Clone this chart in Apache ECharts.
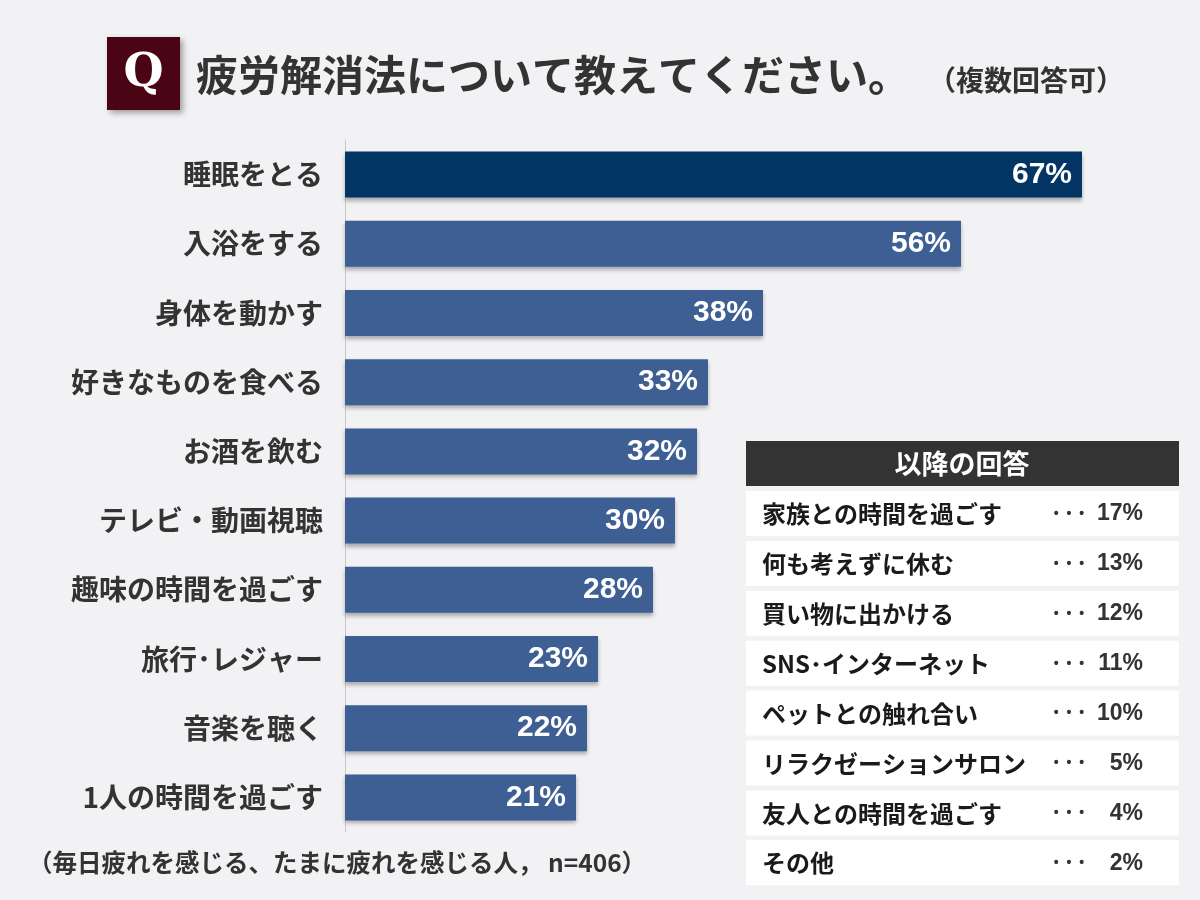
<!DOCTYPE html>
<html><head><meta charset="utf-8">
<script src="https://cdn.jsdelivr.net/npm/echarts@6/dist/echarts.min.js"></script>
<style>html,body{margin:0;padding:0;background:#f2f1f4;}#c{width:1200px;height:900px;}</style>
</head><body><div id="c"></div>
<script>
const categories = ['睡眠をとる','入浴をする','身体を動かす','好きなものを食べる','お酒を飲む','テレビ・動画視聴','趣味の時間を過ごす','旅行･レジャー','音楽を聴く','1人の時間を過ごす'];
const values = [67,56,38,33,32,30,28,23,22,21];
const otherLabels = ['家族との時間を過ごす','何も考えずに休む','買い物に出かける','SNS･インターネット','ペットとの触れ合い','リラクゼーションサロン','友人との時間を過ごす','その他'];
const otherValues = [17,13,12,11,10,5,4,2];
const titleText = '疲労解消法について教えてください。';
const subText = '（複数回答可）';
const noteText = '（毎日疲れを感じる、たまに疲れを感じる人， n=406）';
const tableHeader = '以降の回答';

const FONT = '"Noto Sans CJK JP", "Noto Sans", sans-serif';
const chart = echarts.init(document.getElementById('c'));

const graphics = [];
// Q box
graphics.push({type:'rect', shape:{x:107,y:37,width:73,height:73}, style:{fill:'#4a0414', shadowBlur:6, shadowOffsetX:3, shadowOffsetY:3, shadowColor:'rgba(0,0,0,0.35)'}});
graphics.push({type:'text', x:143.5, y:74, style:{text:'Q', fill:'#fff', font:'bold 46px "DejaVu Serif", "Liberation Serif", serif', align:'center', verticalAlign:'middle'}});
graphics.push({type:'text', x:196, y:75, style:{text:titleText, fill:'#333', font:'bold 42px '+FONT, align:'left', verticalAlign:'middle'}});
graphics.push({type:'text', x:928, y:80, style:{text:subText, fill:'#333', font:'bold 28px '+FONT, align:'left', verticalAlign:'middle'}});
graphics.push({type:'text', x:28, y:863, style:{text:noteText, fill:'#333', font:'bold 24.5px '+FONT, align:'left', verticalAlign:'middle'}});
// table
graphics.push({type:'rect', shape:{x:746,y:441,width:433,height:45}, style:{fill:'#333333'}});
graphics.push({type:'text', x:962, y:464, style:{text:tableHeader, fill:'#fff', font:'bold 27px '+FONT, align:'center', verticalAlign:'middle'}});
otherLabels.forEach((lab,i)=>{
  const top = 491 + i*49.9;
  graphics.push({type:'rect', shape:{x:746,y:top,width:433,height:45}, style:{fill:'#ffffff'}});
  const cy = top + 23;
  graphics.push({type:'text', x:762, y:cy, style:{text:lab, fill:'#1a1a1a', font:'bold 24px '+FONT, align:'left', verticalAlign:'middle'}});
  graphics.push({type:'text', x:1069, y:cy, style:{text:'•  •  •', fill:'#333', font:'bold 14px "Liberation Sans", Arial, sans-serif', align:'center', verticalAlign:'middle'}});
  graphics.push({type:'text', x:1143, y:cy, style:{text:otherValues[i]+'%', fill:'#333', font:'bold 23px "Liberation Sans", Arial, sans-serif', align:'right', verticalAlign:'middle'}});
});

chart.setOption({
  backgroundColor:'#f2f1f4',
  animation:false,
  grid:{left:345, top:140, width:770, height:692},
  xAxis:{type:'value', min:0, max:70, show:false},
  yAxis:{type:'category', inverse:true, data:categories,
    axisLine:{show:true, lineStyle:{color:'#c8c8cc', width:1}},
    axisTick:{show:false},
    axisLabel:{margin:22, color:'#333', fontSize:28, fontWeight:'bold', fontFamily:FONT}
  },
  series:[{
    type:'bar', barWidth:46,
    data: values.map((v,i)=>({value:v, itemStyle:{color: i===0 ? '#033564' : '#3d5f94'}})),
    itemStyle:{shadowBlur:4, shadowOffsetY:3, shadowColor:'rgba(0,0,0,0.3)'},
    label:{show:true, position:'insideRight', offset:[-5,0], formatter:'{c}%', color:'#fff', fontSize:30, fontWeight:'bold', fontFamily:'"Liberation Sans", Arial, sans-serif'}
  }],
  graphic: graphics
});
</script></body></html>
